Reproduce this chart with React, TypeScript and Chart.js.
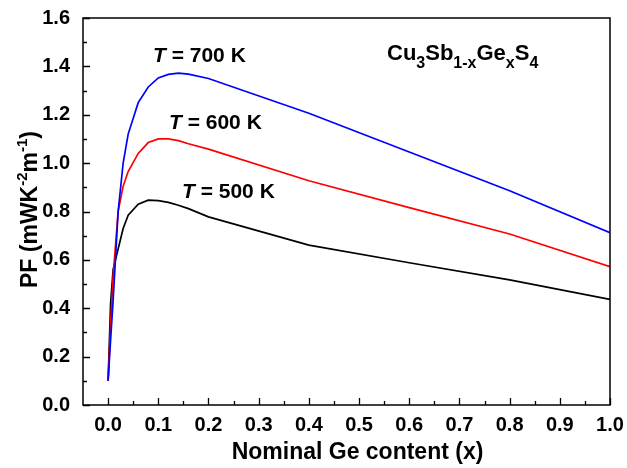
import React, { useEffect, useRef } from "react";
import { Chart, registerables } from "chart.js";

Chart.register(...registerables);

// ---- data ----
const xContent = [0, 0.005, 0.01, 0.02, 0.03, 0.04, 0.06, 0.08, 0.10, 0.12, 0.14, 0.16, 0.20, 0.40, 0.60, 0.80, 1.00];
const pf700 = [0.10, 0.27, 0.43, 0.80, 1.00, 1.12, 1.25, 1.315, 1.352, 1.367, 1.372, 1.368, 1.35, 1.206, 1.046, 0.886, 0.712];
const pf600 = [0.10, 0.33, 0.53, 0.80, 0.905, 0.965, 1.04, 1.085, 1.10, 1.10, 1.093, 1.08, 1.058, 0.927, 0.816, 0.707, 0.572];
const pf500 = [0.10, 0.42, 0.56, 0.645, 0.73, 0.785, 0.83, 0.847, 0.845, 0.838, 0.826, 0.812, 0.778, 0.661, 0.588, 0.517, 0.437];
const xTicks = [0, 0.1, 0.2, 0.3, 0.4, 0.5, 0.6, 0.7, 0.8, 0.9, 1.0];
const yTicks = [0, 0.2, 0.4, 0.6, 0.8, 1.0, 1.2, 1.4, 1.6];
const seriesLabels = ["700", "600", "500"];

const FAM = "'Liberation Sans', Arial, sans-serif";

type Seg = { t: string; f: string; dy?: number };

function drawRich(ctx: CanvasRenderingContext2D, x: number, y: number, segs: Seg[], align: "left" | "center") {
  let total = 0;
  for (const s of segs) {
    ctx.font = s.f;
    total += ctx.measureText(s.t).width;
  }
  let cx = align === "center" ? x - total / 2 : x;
  ctx.textAlign = "left";
  ctx.textBaseline = "alphabetic";
  for (const s of segs) {
    ctx.font = s.f;
    ctx.fillText(s.t, cx, y + (s.dy || 0));
    cx += ctx.measureText(s.t).width;
  }
}

const overlay = {
  id: "overlay",
  afterDraw(chart: any) {
    const { ctx, chartArea, scales } = chart;
    const { left, right, top, bottom } = chartArea;
    const xs = scales.x;
    const ys = scales.y;
    ctx.save();
    ctx.strokeStyle = "#000";
    ctx.fillStyle = "#000";
    ctx.lineWidth = 1.5;
    ctx.strokeRect(left, top, right - left, bottom - top);

    ctx.lineWidth = 1.3;
    ctx.beginPath();
    for (const v of xTicks) {
      const p = Math.round(xs.getPixelForValue(v)) + 0.5;
      ctx.moveTo(p, bottom);
      ctx.lineTo(p, bottom - 7);
      if (v < 1.0) {
        const pm = Math.round(xs.getPixelForValue(v + 0.05)) + 0.5;
        ctx.moveTo(pm, bottom);
        ctx.lineTo(pm, bottom - 4);
      }
    }
    for (const v of yTicks) {
      const p = Math.round(ys.getPixelForValue(v)) + 0.5;
      ctx.moveTo(left, p);
      ctx.lineTo(left + 7, p);
      if (v < 1.6) {
        const pm = Math.round(ys.getPixelForValue(v + 0.1)) + 0.5;
        ctx.moveTo(left, pm);
        ctx.lineTo(left + 4, pm);
      }
    }
    ctx.stroke();

    const big = `bold 21px ${FAM}`;
    const bigIt = `italic bold 21px ${FAM}`;

    // temperature labels
    const tPos = [
      [153, 62],
      [169, 129],
      [182, 198],
    ];
    seriesLabels.forEach((lab, i) => {
      drawRich(ctx, tPos[i][0], tPos[i][1], [
        { t: "T", f: bigIt },
        { t: " = " + lab + " K", f: big },
      ], "left");
    });

    // compound label
    const cBig = `bold 22px ${FAM}`;
    const cSmall = `bold 16px ${FAM}`;
    drawRich(ctx, 387, 60, [
      { t: "Cu", f: cBig },
      { t: "3", f: cSmall, dy: 8 },
      { t: "Sb", f: cBig },
      { t: "1-x", f: cSmall, dy: 8 },
      { t: "Ge", f: cBig },
      { t: "x", f: cSmall, dy: 8 },
      { t: "S", f: cBig },
      { t: "4", f: cSmall, dy: 8 },
    ], "left");

    // x title
    drawRich(ctx, (left + right) / 2 + 11, 459, [
      { t: "Nominal Ge content (x)", f: `bold 23px ${FAM}` },
    ], "center");

    // y title
    ctx.save();
    ctx.translate(37, (top + bottom) / 2 - 2);
    ctx.rotate(-Math.PI / 2);
    const yt = `bold 23px ${FAM}`;
    const ys2 = `bold 15px ${FAM}`;
    drawRich(ctx, 0, 0, [
      { t: "PF (mWK", f: yt },
      { t: "-2", f: ys2, dy: -10 },
      { t: "m", f: yt },
      { t: "-1", f: ys2, dy: -10 },
      { t: ")", f: yt },
    ], "center");
    ctx.restore();

    ctx.restore();
  },
};

export default function App() {
  const ref = useRef<HTMLCanvasElement | null>(null);
  useEffect(() => {
    document.body.style.margin = "0";
    const canvas = ref.current!;
    const mk = (ys: number[]) => xContent.map((x, i) => ({ x, y: ys[i] }));
    const chart = new Chart(canvas, {
      type: "line",
      data: {
        datasets: [
          { label: "700 K", data: mk(pf700), borderColor: "#0000ff", borderWidth: 1.7, pointRadius: 0, fill: false, tension: 0 },
          { label: "600 K", data: mk(pf600), borderColor: "#ff0000", borderWidth: 1.7, pointRadius: 0, fill: false, tension: 0 },
          { label: "500 K", data: mk(pf500), borderColor: "#000000", borderWidth: 1.7, pointRadius: 0, fill: false, tension: 0 },
        ],
      },
      options: {
        responsive: false,
        animation: false,
        devicePixelRatio: 1,
        layout: { padding: { top: 18, right: 17, left: 0, bottom: 0 } },
        plugins: { legend: { display: false }, tooltip: { enabled: false } },
        scales: {
          x: {
            type: "linear",
            min: -0.05,
            max: 1.0,
            afterBuildTicks: (s: any) => {
              s.ticks = xTicks.map((v) => ({ value: v }));
            },
            afterFit: (s: any) => {
              s.height = 63;
            },
            grid: { display: false },
            border: { display: false },
            ticks: {
              autoSkip: false,
              maxRotation: 0,
              padding: 0,
              color: "#000",
              font: { family: FAM, size: 20, weight: "bold" },
              callback: (v: any) => Number(v).toFixed(1),
            },
          },
          y: {
            type: "linear",
            min: 0,
            max: 1.6,
            afterBuildTicks: (s: any) => {
              s.ticks = yTicks.map((v) => ({ value: v }));
            },
            afterFit: (s: any) => {
              s.width = 83;
            },
            grid: { display: false },
            border: { display: false },
            ticks: {
              padding: 5,
              color: "#000",
              font: { family: FAM, size: 20, weight: "bold" },
              callback: (v: any) => Number(v).toFixed(1),
            },
          },
        },
      },
      plugins: [overlay],
    } as any);
    return () => chart.destroy();
  }, []);
  return (
    <div style={{ position: "absolute", left: 0, top: 0, width: 627, height: 468, background: "#fff" }}>
      <canvas ref={ref} width={627} height={468} />
    </div>
  );
}
